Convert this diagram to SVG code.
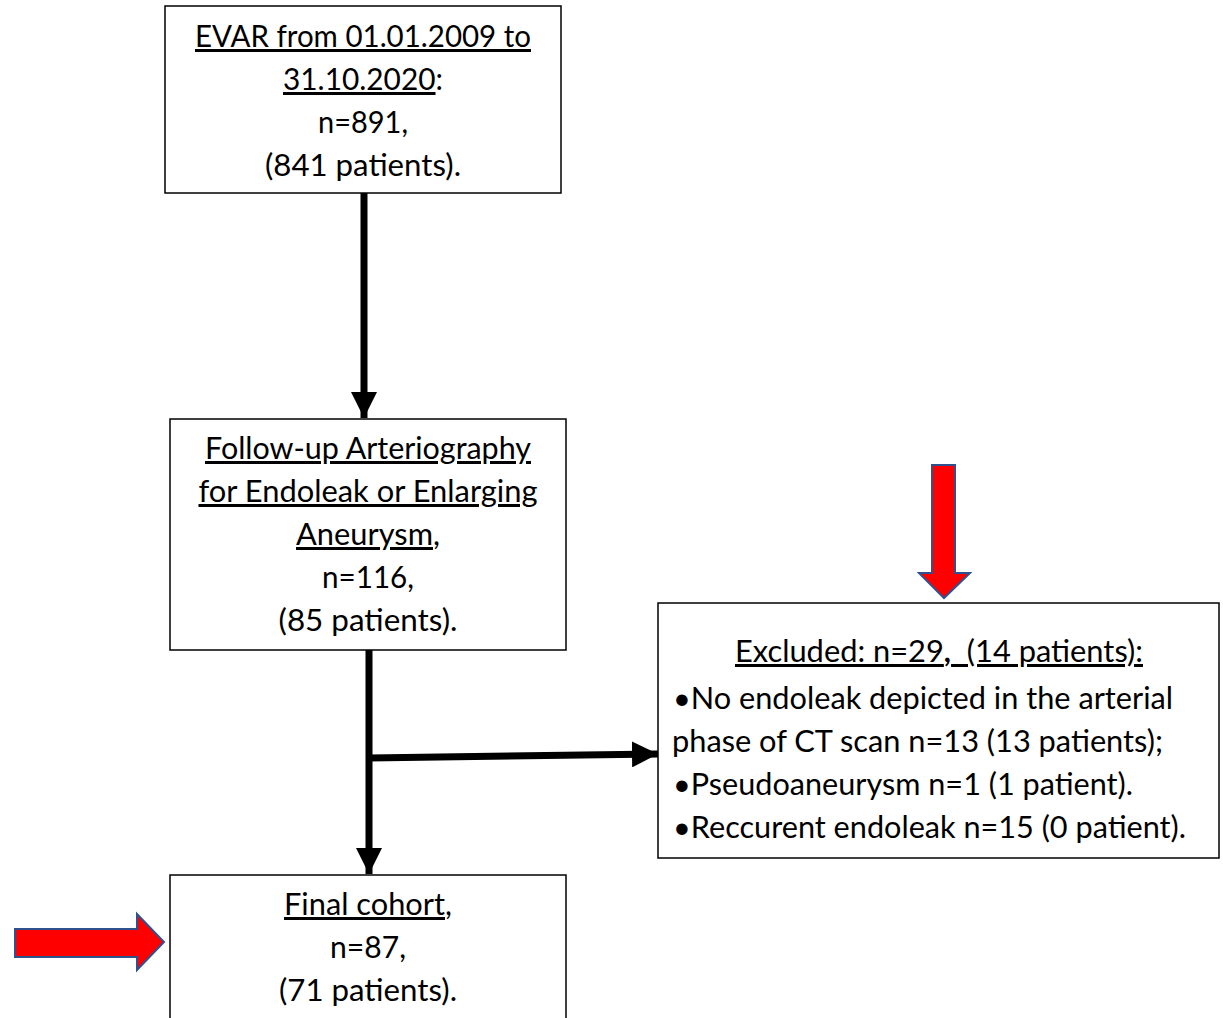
<svg xmlns="http://www.w3.org/2000/svg" width="1223" height="1018" viewBox="0 0 1223 1018">
<defs>
<style>
.box{fill:#fff;stroke:#000;stroke-width:1.5}
.t{font-family:Lato,"Liberation Sans",sans-serif;font-size:30px;fill:#000;white-space:pre}
.c{text-anchor:middle}
.u{text-decoration:underline}
.conn{stroke:#000;stroke-width:7;fill:none}
.red{fill:#ff0000;stroke:#2f528f;stroke-width:2;stroke-linejoin:miter}
</style>
<marker id="ah" markerUnits="userSpaceOnUse" markerWidth="26" markerHeight="26" viewBox="0 0 26 26" refX="26" refY="13" orient="auto">
<path d="M0,0 L26,13 L0,26 Z" fill="#000"/>
</marker>
</defs>
<rect width="1223" height="1018" fill="#fff"/>

<g id="connectors">
<path class="conn" d="M364,193 L364,418" marker-end="url(#ah)"/>
<path class="conn" d="M369,650 L369,874" marker-end="url(#ah)"/>
<path class="conn" d="M369,758 L658,754" marker-end="url(#ah)"/>
</g>

<g id="node-evar">
<rect class="box" x="165" y="6" width="396" height="187"/>
<text class="t c" x="363" y="47" textLength="336" lengthAdjust="spacingAndGlyphs"><tspan class="u">EVAR from 01.01.2009 to</tspan></text>
<text class="t c" x="363" y="90" textLength="160" lengthAdjust="spacingAndGlyphs"><tspan class="u">31.10.2020</tspan>:</text>
<text class="t c" x="363" y="133" textLength="90" lengthAdjust="spacingAndGlyphs">n=891,</text>
<text class="t c" x="363" y="176" textLength="196" lengthAdjust="spacingAndGlyphs">(841 patients).</text>
</g>

<g id="node-followup">
<rect class="box" x="170" y="419" width="396" height="231"/>
<text class="t c" x="368" y="459" textLength="326" lengthAdjust="spacingAndGlyphs"><tspan class="u">Follow-up Arteriography</tspan></text>
<text class="t c" x="368" y="502" textLength="339" lengthAdjust="spacingAndGlyphs"><tspan class="u">for Endoleak or Enlarging</tspan></text>
<text class="t c" x="368" y="545" textLength="144" lengthAdjust="spacingAndGlyphs"><tspan class="u">Aneurysm</tspan>,</text>
<text class="t c" x="368" y="588" textLength="92" lengthAdjust="spacingAndGlyphs">n=116,</text>
<text class="t c" x="368" y="631" textLength="179" lengthAdjust="spacingAndGlyphs">(85 patients).</text>
</g>

<g id="node-excluded">
<rect class="box" x="658" y="603" width="561" height="255"/>
<text class="t c u" x="939" y="662" textLength="408" lengthAdjust="spacingAndGlyphs">Excluded: n=29<tspan font-weight="bold">,</tspan>  (14 patients):</text>
<text class="t" x="673" y="709" textLength="500" lengthAdjust="spacingAndGlyphs">•No endoleak depicted in the arterial</text>
<text class="t" x="672" y="752" textLength="491" lengthAdjust="spacingAndGlyphs">phase of CT scan n=13 (13 patients);</text>
<text class="t" x="673" y="795" textLength="460" lengthAdjust="spacingAndGlyphs">•Pseudoaneurysm n=1 (1 patient).</text>
<text class="t" x="673" y="838" textLength="513" lengthAdjust="spacingAndGlyphs">•Reccurent endoleak n=15 (0 patient).</text>
</g>

<g id="node-final">
<rect class="box" x="170" y="875" width="396" height="160"/>
<text class="t c" x="368" y="915" textLength="168" lengthAdjust="spacingAndGlyphs"><tspan class="u">Final cohort</tspan>,</text>
<text class="t c" x="368" y="958" textLength="76" lengthAdjust="spacingAndGlyphs">n=87,</text>
<text class="t c" x="368" y="1001" textLength="178" lengthAdjust="spacingAndGlyphs">(71 patients).</text>
</g>

<g id="red-arrow-down">
<path class="red" d="M932,465 L955,465 L955,573 L970,573 L944,598 L919,573 L932,573 Z"/>
</g>
<g id="red-arrow-right">
<path class="red" d="M15,929 L137,929 L137,914 L164,942 L137,970 L137,957 L15,957 Z"/>
</g>
</svg>
